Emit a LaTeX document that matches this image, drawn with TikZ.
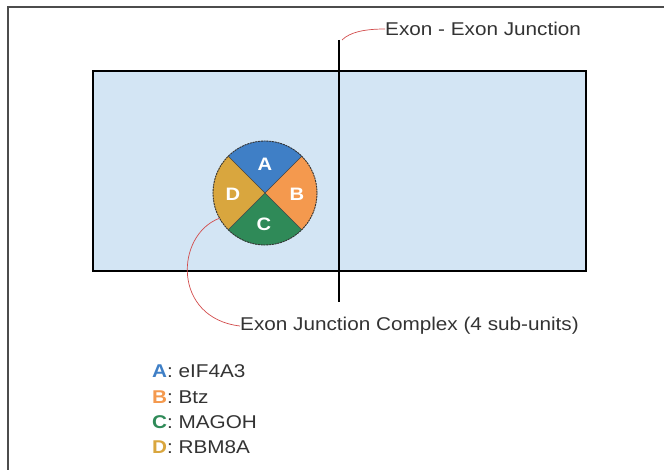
\documentclass[tikz,border=0pt]{standalone}
\usepackage{fontspec}
\setmainfont{Liberation Sans}[FakeStretch=1.12]
\begin{document}
\begin{tikzpicture}[x=1pt,y=-1pt,
  lbl/.style={font=\fontsize{18.5}{20}\selectfont,text=black!80,inner sep=0pt},
  sub/.style={font=\fontsize{18}{19}\selectfont\bfseries,text=white,inner sep=0pt},
  callout/.style={draw=red!75!black!70,line width=0.7pt},
]
\definecolor{exonfill}{HTML}{D3E5F4}
\definecolor{subA}{HTML}{3F7FC6}
\definecolor{subB}{HTML}{F4994E}
\definecolor{subC}{HTML}{2F8A58}
\definecolor{subD}{HTML}{D9A63E}
\useasboundingbox (0,0) rectangle (664,470);
% frame (left and top edges)
\draw[draw=black!70,line width=1.2pt] (8,470) -- (8,7) -- (664,7);
% exon pair
\node[draw=black,line width=1.6pt,fill=exonfill,minimum width=493pt,minimum height=200pt,inner sep=0pt,anchor=north west] (exons) at (92,70) {};
% junction line
\coordinate (jtop) at (339,40);
\coordinate (jbot) at (339,302);
\draw[black,line width=1.2pt] (jtop) -- (jbot);
% complex of four sub-units
\node[circle,minimum size=104pt,inner sep=0pt] (jc) at (265,193) {};
\fill[subA] (jc.center) -- (jc.45) arc[start angle=-45,end angle=-135,radius=52] -- cycle;
\fill[subB] (jc.center) -- (jc.-45) arc[start angle=45,end angle=-45,radius=52] -- cycle;
\fill[subC] (jc.center) -- (jc.-135) arc[start angle=135,end angle=45,radius=52] -- cycle;
\fill[subD] (jc.center) -- (jc.135) arc[start angle=-135,end angle=-225,radius=52] -- cycle;
\draw[black!75,line width=0.6pt] (jc.45) -- (jc.-135) (jc.135) -- (jc.-45);
\draw[black!80,line width=0.9pt,dash pattern=on 2pt off 0.8pt] (jc.center) circle[radius=52];
\node[sub] (sa) at (265,164) {A};
\node[sub] (sb) at (297,194) {B};
\node[sub] (sc) at (264,224) {C};
\node[sub] (sd) at (233,194) {D};
% callouts
\node[lbl,anchor=west] (ejlbl) at (385,29) {Exon - Exon Junction};
\node[lbl,anchor=west] (jclbl) at (240,326) {Exon Junction Complex (4 sub-units)};
\draw[callout] (342,40) .. controls (350,32) and (365,29) .. (ejlbl.west);
\draw[callout] (jc.209) .. controls (175,235) and (172,318) .. (jclbl.west);
% legend
\node[lbl,anchor=west] (la) at (152,371) {\textcolor{subA}{\bfseries A}: eIF4A3};
\node[lbl,anchor=west] (lb) at (152,397) {\textcolor{subB}{\bfseries B}: Btz};
\node[lbl,anchor=west] (lc) at (152,422) {\textcolor{subC}{\bfseries C}: MAGOH};
\node[lbl,anchor=west] (ld) at (152,447) {\textcolor{subD}{\bfseries D}: RBM8A};
\end{tikzpicture}
\end{document}
